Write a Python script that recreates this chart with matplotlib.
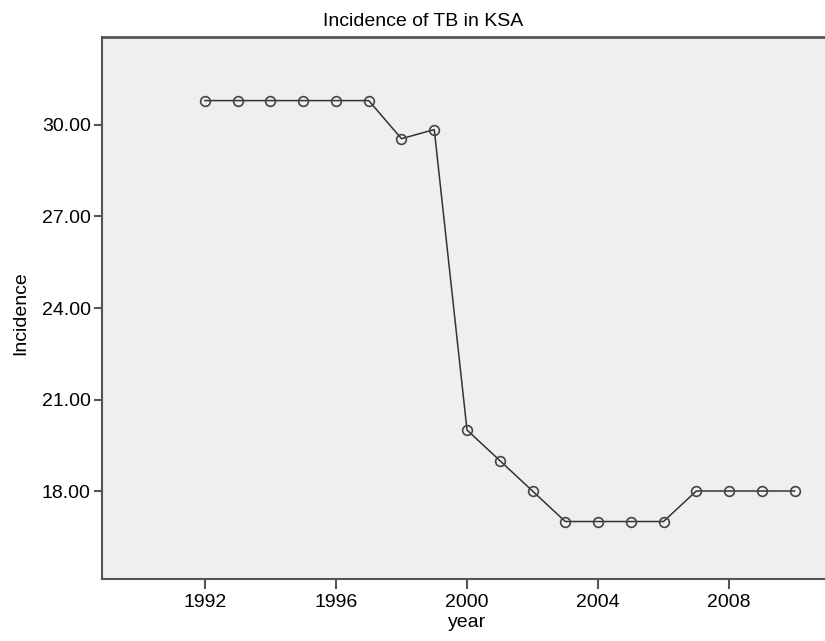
import matplotlib.pyplot as plt

plt.rcParams['font.family'] = ['Liberation Sans', 'DejaVu Sans']

years = [1992, 1993, 1994, 1995, 1996, 1997, 1998, 1999, 2000, 2001,
         2002, 2003, 2004, 2005, 2006, 2007, 2008, 2009, 2010]
incidence = [30.8, 30.8, 30.8, 30.8, 30.8, 30.8, 29.55, 29.85, 20.0, 19.0,
             18.0, 17.0, 17.0, 17.0, 17.0, 18.0, 18.0, 18.0, 18.0]

xticks = [1992, 1996, 2000, 2004, 2008]
yticks = [18, 21, 24, 27, 30]

fig = plt.figure(figsize=(8.25, 6.41), dpi=100)
ax = fig.add_axes([0.1236, 0.0967, 0.8764, 0.8456])
ax.set_facecolor('#efefef')

ax.plot(years, incidence, color='#333333', linewidth=1.1,
        marker='o', markersize=7, markerfacecolor='none',
        markeredgecolor='#444444', markeredgewidth=1.2)

ax.set_xlim(1988.855, 2010.93)
ax.set_ylim(15.115, 32.885)
ax.set_xticks(xticks)
ax.set_yticks(yticks)
ax.set_yticklabels(['%.2f' % v for v in yticks])
ax.tick_params(axis='both', labelsize=14, colors='#555555', labelcolor='black',
               width=1.5)
ax.tick_params(axis='y', length=6, pad=2)
ax.tick_params(axis='x', length=7, pad=4)

for side in ['left', 'bottom', 'top']:
    ax.spines[side].set_color('#555555')
    ax.spines[side].set_linewidth(1.5)
ax.spines['top'].set_linewidth(2)
ax.spines['right'].set_visible(False)

# title sits centred over the whole chart, not just the axes
fig.text(0.513, 1 - 26 / 641, 'Incidence of TB in KSA', fontsize=14,
         ha='center', va='baseline')
ax.set_xlabel('year', fontsize=14)
ax.set_ylabel('Incidence', fontsize=14)
ax.xaxis.set_label_coords(0.505, -0.0646)
ax.yaxis.set_label_coords(-0.101, 0.49)

fig.savefig('out.png', dpi=100)
